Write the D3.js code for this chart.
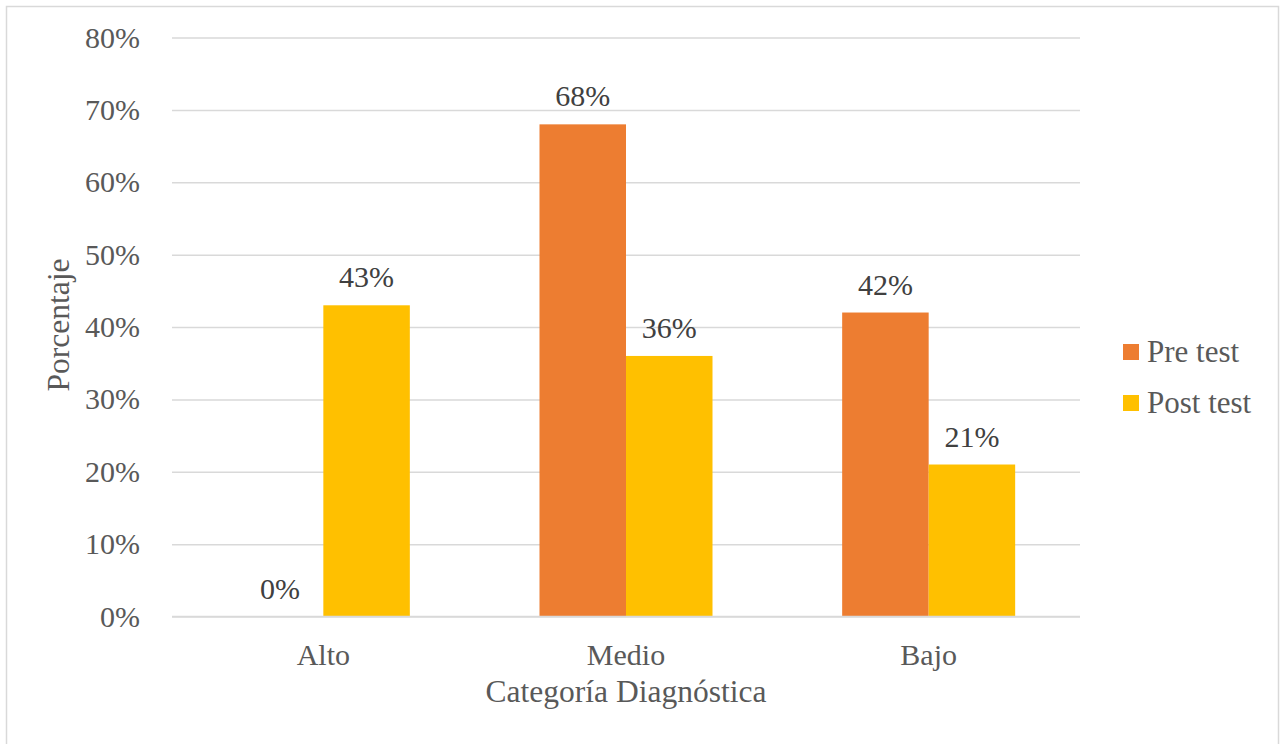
<!DOCTYPE html>
<html><head><meta charset="utf-8">
<script src="https://cdn.jsdelivr.net/npm/d3@7"></script>
<style>body{margin:0;background:#fff}svg{display:block}</style>
</head><body>
<script>
const categories = ["Alto", "Medio", "Bajo"];
const seriesNames = ["Pre test", "Post test"];
const preTest = [0, 68, 42];
const postTest = [43, 36, 21];
const yTicks = [0, 10, 20, 30, 40, 50, 60, 70, 80];
const colors = ["#ED7D31", "#FFC000"];

(function () {
const W = 1281, H = 744;
const svg = d3.select("body").append("svg").attr("width", W).attr("height", H);
const font = "'Liberation Serif', 'Times New Roman', serif";

svg.append("rect").attr("x", 6.5).attr("y", 6.5).attr("width", 1272).attr("height", 760)
  .attr("fill", "#fff").attr("stroke", "#d9d9d9").attr("stroke-width", 1.5);

const pLeft = 172, pRight = 1080, pTop = 37.5, pBottom = 616.5;
const y = d3.scaleLinear().domain([0, 80]).range([pBottom, pTop]);
const x0 = d3.scaleBand().domain(categories).range([pLeft, pRight]).padding(0);
const gap = (x0.bandwidth() - 173) / 2;
const x1 = d3.scaleBand().domain(seriesNames).range([gap, x0.bandwidth() - gap]).padding(0);

const yAxis = d3.axisLeft(y).tickValues(yTicks).tickSize(-(pRight - pLeft)).tickFormat(d => d + "%").tickPadding(32);
const gy = svg.append("g").attr("transform", `translate(${pLeft},0)`).call(yAxis);
gy.select(".domain").remove();
gy.selectAll(".tick line").attr("stroke", "#d9d9d9").attr("stroke-width", 1.5);
gy.selectAll(".tick text").attr("fill", "#595959").style("font-family", font).style("font-size", "30px");

const data = categories.map((c, i) => ({ cat: c, vals: [preTest[i], postTest[i]] }));
const groups = svg.append("g").selectAll("g").data(data).join("g")
  .attr("transform", d => `translate(${x0(d.cat)},0)`);
groups.selectAll("rect").data(d => d.vals.map((v, j) => ({ v, s: seriesNames[j], j })))
  .join("rect")
  .attr("x", d => x1(d.s)).attr("width", x1.bandwidth())
  .attr("y", d => y(d.v)).attr("height", d => y(0) - y(d.v))
  .attr("fill", d => colors[d.j]);
groups.selectAll("text").data(d => d.vals.map((v, j) => ({ v, s: seriesNames[j], j })))
  .join("text")
  .attr("x", d => x1(d.s) + x1.bandwidth() / 2)
  .attr("y", d => y(d.v) - 18)
  .attr("text-anchor", "middle").attr("fill", "#404040")
  .style("font-family", font).style("font-size", "30px")
  .text(d => d.v + "%");

svg.append("line").attr("x1", pLeft).attr("x2", pRight).attr("y1", y(0)).attr("y2", y(0))
  .attr("stroke", "#d9d9d9").attr("stroke-width", 1.5);

const xAxis = d3.axisBottom(x0).tickSize(0).tickPadding(27);
const gx = svg.append("g").attr("transform", `translate(0,${pBottom})`).call(xAxis);
gx.select(".domain").remove();
gx.selectAll(".tick text").attr("fill", "#595959").style("font-family", font).style("font-size", "30px");

svg.append("text").attr("x", (pLeft + pRight) / 2).attr("y", 702).attr("text-anchor", "middle")
  .attr("fill", "#595959").style("font-family", font).style("font-size", "31.5px").text("Categoría Diagnóstica");
svg.append("text").attr("transform", `translate(69,${(pTop + pBottom) / 2 - 2}) rotate(-90)`).attr("text-anchor", "middle")
  .attr("fill", "#595959").style("font-family", font).style("font-size", "31.5px").text("Porcentaje");

const lg = svg.append("g").selectAll("g").data(seriesNames).join("g")
  .attr("transform", (d, i) => `translate(1123,${344 + i * 51})`);
lg.append("rect").attr("width", 16).attr("height", 16).attr("fill", (d, i) => colors[i]);
lg.append("text").attr("x", 24).attr("y", 18).attr("fill", "#595959")
  .style("font-family", font).style("font-size", "31px").text(d => d);
})();
</script>
</body></html>
